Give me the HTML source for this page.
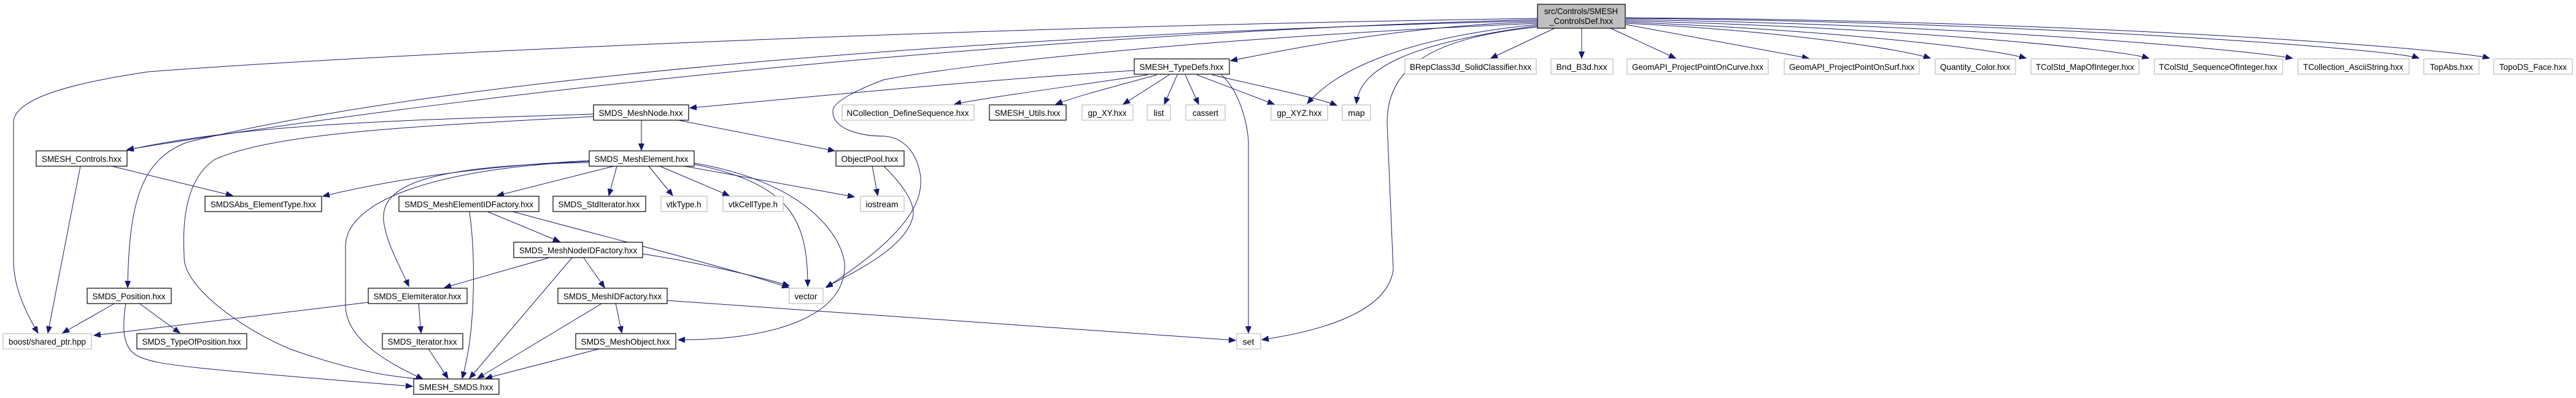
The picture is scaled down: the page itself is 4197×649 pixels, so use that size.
<!DOCTYPE html>
<html><head><meta charset="utf-8"><style>
html,body{margin:0;padding:0;background:#fff;}
svg{display:block;}
text{font-family:"Liberation Sans",Helvetica,sans-serif;font-size:14px;fill:#000;}
.e{fill:none;stroke:#191970;stroke-width:1;}
.nb{fill:#fff;stroke:#000;stroke-width:1.2;}
.ng{fill:#fff;stroke:#bfbfbf;stroke-width:1.2;}
</style></head><body>
<svg width="4197" height="649" viewBox="0 0 4197 649" xmlns="http://www.w3.org/2000/svg">
<defs><marker id="a" markerWidth="12" markerHeight="10" refX="11" refY="4.5" orient="auto" markerUnits="userSpaceOnUse"><path d="M0,0 L11,4.5 L0,9 Z" fill="#191970" stroke="#191970"/></marker></defs>
<g marker-end="url(#a)">
<path class="e" d="M2505,30 C1500,45 600,90 242,117 C120,135 22,160 22,200 L22,425 C22,470 45,515 62,543"/>
<path class="e" d="M2505,34 C1800,50 800,110 305,232 C230,260 210,330 208,469"/>
<path class="e" d="M2505,32 C1800,50 900,130 207,244"/>
<path class="e" d="M2505,36 C2300,40 2100,80 2005,99"/>
<path class="e" d="M2505,40 C2300,60 2180,110 2130,169"/>
<path class="e" d="M2505,42 C2300,70 2215,110 2210,169"/>
<path class="e" d="M2505,44 C2350,60 2260,100 2260,200 L2270,440 C2260,510 2150,540 2056,554"/>
<path class="e" d="M2505,38 C2000,60 1600,100 1440,130 C1400,145 1358,165 1357,180 C1355,210 1400,222 1440,222 C1490,225 1502,280 1500,300 C1498,360 1420,420 1346,469"/>
<path class="e" d="M2533,46 L2429,95"/>
<path class="e" d="M2577,46 L2577,95"/>
<path class="e" d="M2624,46 L2730,95"/>
<path class="e" d="M2649,40 L2947,95"/>
<path class="e" d="M2649,38 C2900,50 3100,80 3145,95"/>
<path class="e" d="M2649,36 C3000,50 3250,80 3301,95"/>
<path class="e" d="M2649,34 C3100,45 3450,80 3501,95"/>
<path class="e" d="M2649,32 C3200,40 3650,80 3735,95"/>
<path class="e" d="M2649,30 C3300,35 3900,80 3941,95"/>
<path class="e" d="M2649,29 C3400,33 4000,80 4056,95"/>
<path class="e" d="M1848,115 C1600,130 1300,160 1124,176"/>
<path class="e" d="M1870,122 C1750,140 1600,160 1555,170"/>
<path class="e" d="M1885,122 C1820,140 1760,155 1720,170"/>
<path class="e" d="M1905,122 L1830,170"/>
<path class="e" d="M1918,122 L1897,170"/>
<path class="e" d="M1931,122 L1953,170"/>
<path class="e" d="M1950,122 L2076,170"/>
<path class="e" d="M1975,122 C2050,140 2150,160 2178,172"/>
<path class="e" d="M1990,122 C2020,150 2032,200 2034,230 L2034,543"/>
<path class="e" d="M967,186 C700,195 400,200 207,245"/>
<path class="e" d="M967,190 C700,205 450,215 350,260 C290,300 300,400 300,420 C300,470 400,540 475,570 C560,600 630,615 689,618"/>
<path class="e" d="M1045,196 L1045,245"/>
<path class="e" d="M1105,196 L1360,246"/>
<path class="e" d="M182,271 L379,319"/>
<path class="e" d="M131,271 L78,543"/>
<path class="e" d="M960,262 C800,270 650,290 526,320"/>
<path class="e" d="M1000,271 L810,319"/>
<path class="e" d="M1005,271 L992,319"/>
<path class="e" d="M1057,271 L1096,319"/>
<path class="e" d="M1075,271 L1188,319"/>
<path class="e" d="M1115,271 L1392,321"/>
<path class="e" d="M1131,268 C1290,300 1316,360 1316,467"/>
<path class="e" d="M1131,266 C1330,300 1380,400 1376,440 C1370,520 1250,555 1105,554"/>
<path class="e" d="M960,265 C700,270 620,300 625,360 C630,400 655,440 666,467"/>
<path class="e" d="M960,263 C700,275 565,330 563,400 L563,500 C565,560 650,600 689,618"/>
<path class="e" d="M794,345 L912,394"/>
<path class="e" d="M765,345 C775,420 775,540 753,617"/>
<path class="e" d="M835,345 C1000,390 1200,440 1285,469"/>
<path class="e" d="M899,419 L724,469"/>
<path class="e" d="M933,419 L765,617"/>
<path class="e" d="M950,419 L985,469"/>
<path class="e" d="M1047,414 C1150,430 1250,455 1286,466"/>
<path class="e" d="M600,493 L153,547"/>
<path class="e" d="M682,494 L686,543"/>
<path class="e" d="M188,494 L102,543"/>
<path class="e" d="M226,494 L293,543"/>
<path class="e" d="M205,494 C198,540 200,572 230,583 C260,595 300,600 672,630"/>
<path class="e" d="M1003,494 L1013,543"/>
<path class="e" d="M982,494 L778,617"/>
<path class="e" d="M1087,490 L2013,555"/>
<path class="e" d="M698,569 L730,617"/>
<path class="e" d="M976,569 L791,617"/>
<path class="e" d="M1421,270 L1430,319"/>
<path class="e" d="M1439,270 C1470,300 1490,330 1488,350 C1480,400 1400,440 1346,468"/>
</g>
<rect x="2505" y="7" width="143" height="39" fill="#bfbfbf" stroke="#000" stroke-width="1.2"/>
<text x="2576" y="23" text-anchor="middle" textLength="120" lengthAdjust="spacingAndGlyphs">src/Controls/SMESH</text>
<text x="2576" y="39" text-anchor="middle" textLength="104" lengthAdjust="spacingAndGlyphs">_ControlsDef.hxx</text>
<g text-anchor="middle" lengthAdjust="spacingAndGlyphs">
<rect class="nb" x="1848" y="96" width="155" height="25"/><text x="1925" y="114" textLength="137" lengthAdjust="spacingAndGlyphs">SMESH_TypeDefs.hxx</text>
<rect class="ng" x="2289" y="96" width="214" height="25"/><text x="2396" y="114" textLength="198" lengthAdjust="spacingAndGlyphs">BRepClass3d_SolidClassifier.hxx</text>
<rect class="ng" x="2527" y="96" width="101" height="25"/><text x="2577" y="114" textLength="83" lengthAdjust="spacingAndGlyphs">Bnd_B3d.hxx</text>
<rect class="ng" x="2651" y="96" width="230" height="25"/><text x="2766" y="114" textLength="214" lengthAdjust="spacingAndGlyphs">GeomAPI_ProjectPointOnCurve.hxx</text>
<rect class="ng" x="2907" y="96" width="220" height="25"/><text x="3017" y="114" textLength="204" lengthAdjust="spacingAndGlyphs">GeomAPI_ProjectPointOnSurf.hxx</text>
<rect class="ng" x="3153" y="96" width="131" height="25"/><text x="3218" y="114" textLength="114" lengthAdjust="spacingAndGlyphs">Quantity_Color.hxx</text>
<rect class="ng" x="3309" y="96" width="176" height="25"/><text x="3397" y="114" textLength="160" lengthAdjust="spacingAndGlyphs">TColStd_MapOfInteger.hxx</text>
<rect class="ng" x="3510" y="96" width="209" height="25"/><text x="3614" y="114" textLength="193" lengthAdjust="spacingAndGlyphs">TColStd_SequenceOfInteger.hxx</text>
<rect class="ng" x="3744" y="96" width="181" height="25"/><text x="3834" y="114" textLength="163" lengthAdjust="spacingAndGlyphs">TCollection_AsciiString.hxx</text>
<rect class="ng" x="3949" y="96" width="90" height="25"/><text x="3994" y="114" textLength="70" lengthAdjust="spacingAndGlyphs">TopAbs.hxx</text>
<rect class="ng" x="4063" y="96" width="128" height="25"/><text x="4127" y="114" textLength="110" lengthAdjust="spacingAndGlyphs">TopoDS_Face.hxx</text>

<rect class="nb" x="967" y="171" width="155" height="25"/><text x="1044" y="189" textLength="137" lengthAdjust="spacingAndGlyphs">SMDS_MeshNode.hxx</text>
<rect class="ng" x="1372" y="171" width="215" height="25"/><text x="1479" y="189" textLength="199" lengthAdjust="spacingAndGlyphs">NCollection_DefineSequence.hxx</text>
<rect class="nb" x="1612" y="171" width="125" height="25"/><text x="1674" y="189" textLength="107" lengthAdjust="spacingAndGlyphs">SMESH_Utils.hxx</text>
<rect class="ng" x="1763" y="171" width="83" height="25"/><text x="1804" y="189" textLength="63" lengthAdjust="spacingAndGlyphs">gp_XY.hxx</text>
<rect class="ng" x="1869" y="171" width="38" height="25"/><text x="1888" y="189">list</text>
<rect class="ng" x="1932" y="171" width="64" height="25"/><text x="1964" y="189" textLength="42" lengthAdjust="spacingAndGlyphs">cassert</text>
<rect class="ng" x="2071" y="171" width="92" height="25"/><text x="2117" y="189" textLength="73" lengthAdjust="spacingAndGlyphs">gp_XYZ.hxx</text>
<rect class="ng" x="2187" y="171" width="46" height="25"/><text x="2210" y="189">map</text>

<rect class="nb" x="59" y="246" width="148" height="25"/><text x="133" y="264" textLength="130" lengthAdjust="spacingAndGlyphs">SMESH_Controls.hxx</text>
<rect class="nb" x="960" y="246" width="171" height="25"/><text x="1045" y="264" textLength="153" lengthAdjust="spacingAndGlyphs">SMDS_MeshElement.hxx</text>
<rect class="nb" x="1362" y="246" width="111" height="25"/><text x="1417" y="264" textLength="93" lengthAdjust="spacingAndGlyphs">ObjectPool.hxx</text>

<rect class="nb" x="334" y="320" width="190" height="25"/><text x="429" y="338" textLength="172" lengthAdjust="spacingAndGlyphs">SMDSAbs_ElementType.hxx</text>
<rect class="nb" x="650" y="320" width="228" height="25"/><text x="764" y="338" textLength="210" lengthAdjust="spacingAndGlyphs">SMDS_MeshElementIDFactory.hxx</text>
<rect class="nb" x="901" y="320" width="151" height="25"/><text x="976" y="338" textLength="133" lengthAdjust="spacingAndGlyphs">SMDS_StdIterator.hxx</text>
<rect class="ng" x="1077" y="320" width="75" height="25"/><text x="1114" y="338" textLength="57" lengthAdjust="spacingAndGlyphs">vtkType.h</text>
<rect class="ng" x="1178" y="320" width="98" height="25"/><text x="1227" y="338" textLength="80" lengthAdjust="spacingAndGlyphs">vtkCellType.h</text>
<rect class="ng" x="1402" y="320" width="71" height="25"/><text x="1437" y="338" textLength="53" lengthAdjust="spacingAndGlyphs">iostream</text>

<rect class="nb" x="837" y="395" width="210" height="25"/><text x="942" y="413" textLength="192" lengthAdjust="spacingAndGlyphs">SMDS_MeshNodeIDFactory.hxx</text>

<rect class="nb" x="142" y="470" width="137" height="25"/><text x="210" y="488" textLength="119" lengthAdjust="spacingAndGlyphs">SMDS_Position.hxx</text>
<rect class="nb" x="600" y="470" width="161" height="25"/><text x="680" y="488" textLength="143" lengthAdjust="spacingAndGlyphs">SMDS_ElemIterator.hxx</text>
<rect class="nb" x="909" y="470" width="178" height="25"/><text x="998" y="488" textLength="160" lengthAdjust="spacingAndGlyphs">SMDS_MeshIDFactory.hxx</text>
<rect class="ng" x="1286" y="470" width="55" height="25"/><text x="1313" y="488" textLength="37" lengthAdjust="spacingAndGlyphs">vector</text>

<rect class="ng" x="5" y="544" width="144" height="25"/><text x="77" y="562" textLength="126" lengthAdjust="spacingAndGlyphs">boost/shared_ptr.hpp</text>
<rect class="nb" x="223" y="544" width="179" height="25"/><text x="312" y="562" textLength="161" lengthAdjust="spacingAndGlyphs">SMDS_TypeOfPosition.hxx</text>
<rect class="nb" x="623" y="544" width="131" height="25"/><text x="688" y="562" textLength="113" lengthAdjust="spacingAndGlyphs">SMDS_Iterator.hxx</text>
<rect class="nb" x="938" y="544" width="163" height="25"/><text x="1019" y="562" textLength="145" lengthAdjust="spacingAndGlyphs">SMDS_MeshObject.hxx</text>
<rect class="ng" x="2015" y="544" width="39" height="25"/><text x="2034" y="562">set</text>

<rect class="nb" x="674" y="618" width="139" height="25"/><text x="743" y="636" textLength="121" lengthAdjust="spacingAndGlyphs">SMESH_SMDS.hxx</text>
</g>
</svg>
</body></html>
